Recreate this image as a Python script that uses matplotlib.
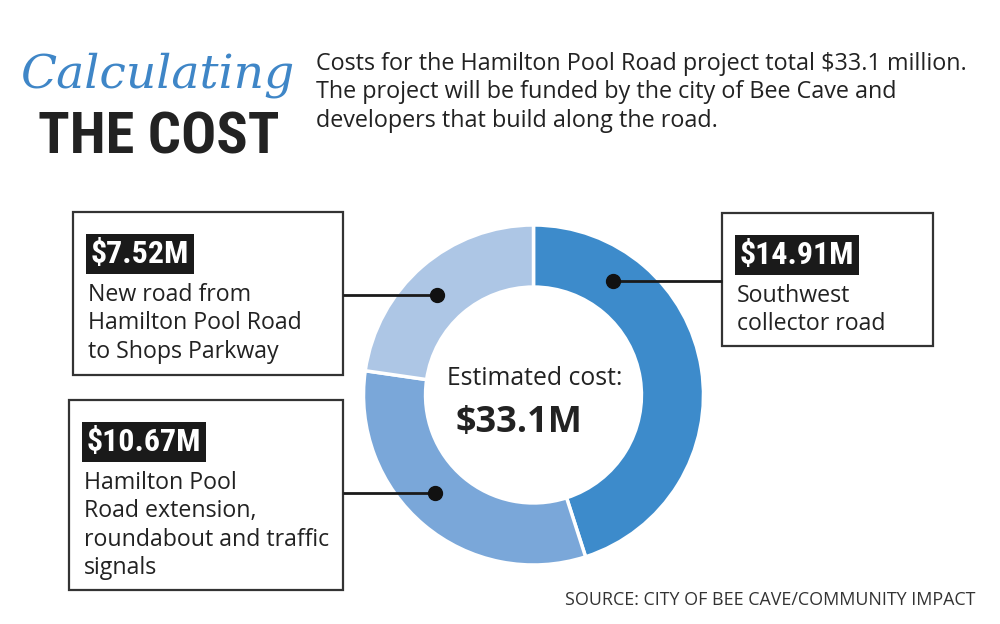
import numpy as np
import matplotlib
matplotlib.use("Agg")
import matplotlib.pyplot as plt
from matplotlib.patches import Rectangle

# ---- data ----
categories = ["Southwest collector road",
              "Hamilton Pool Road extension, roundabout and traffic signals",
              "New road from Hamilton Pool Road to Shops Parkway"]
values = [14.91, 10.67, 7.52]
value_labels = ["$14.91M", "$10.67M", "$7.52M"]
descriptions = [["Southwest", "collector road"],
                ["Hamilton Pool", "Road extension,", "roundabout and traffic", "signals"],
                ["New road from", "Hamilton Pool Road", "to Shops Parkway"]]
total_label = "$33.1M"
intro_lines = ["Costs for the Hamilton Pool Road project total $33.1 million.",
               "The project will be funded by the city of Bee Cave and",
               "developers that build along the road."]
colors = ["#3d8bcb", "#7aa7d9", "#adc6e5"]

W, H = 1000, 624
fig = plt.figure(figsize=(W / 100, H / 100), dpi=100)
fig.patch.set_facecolor("white")

# donut axes
cx, cy, R = 533.5, 395, 170
axp = fig.add_axes([(cx - R) / W, (H - cy - R) / H, 2 * R / W, 2 * R / H])
axp.pie(values, colors=colors, startangle=90, counterclock=False, radius=1,
        wedgeprops=dict(width=0.365, edgecolor="white", linewidth=2.5))
axp.set_xlim(-1, 1)
axp.set_ylim(-1, 1)
axp.set_aspect("equal")
axp.axis("off")

# overlay axes in pixel coords
ax = fig.add_axes([0, 0, 1, 1], zorder=5)
ax.set_xlim(0, W)
ax.set_ylim(H, 0)
ax.axis("off")
ax.patch.set_alpha(0)

body = "Open Sans"
narrow = ["Roboto Condensed", "Roboto", "DejaVu Sans"]
ink = "#222222"


def lines(x, y0, rows, step, **kw):
    for k, row in enumerate(rows):
        ax.text(x, y0 + k * step, row, va="baseline", ha="left", **kw)


# title
ax.text(20, 88, "Calculating", fontsize=34, color="#3f86c7", style="italic",
        family="DejaVu Serif", va="baseline", ha="left")
ax.text(38, 154, "THE COST", fontsize=42, color=ink, weight="bold",
        family=narrow, va="baseline", ha="left")

lines(316, 70, intro_lines, 28.5, fontsize=16.8, family=body, color=ink)

# center text
ax.text(535, 385, "Estimated cost:", fontsize=17.8, family=body, color=ink,
        ha="center", va="baseline")
ax.text(519, 432, total_label, fontsize=26, family=body, weight="bold",
        color=ink, ha="center", va="baseline")

# boxes: (x0, y0, x1, y1), leader y, side
boxes = [(722, 213, 933, 346, 281, "right"),
         (69, 400, 343, 590, 493, "left"),
         (73, 212, 343, 375, 295, "left")]

mid_r = 1 - 0.365 / 2
for i, (x0, y0, x1, y1, ly, side) in enumerate(boxes):
    ax.add_patch(Rectangle((x0, y0), x1 - x0, y1 - y0, facecolor="white",
                           edgecolor="#333333", linewidth=1.6))
    # value label in black box
    ax.text(x0 + 18, y0 + 51, value_labels[i], fontsize=23, family=narrow,
            weight="bold", color="white", va="baseline", ha="left",
            bbox=dict(boxstyle="square,pad=0.15", facecolor="#1a1a1a",
                      edgecolor="none"))
    lines(x0 + 15, y0 + 89, descriptions[i], 28.3, fontsize=16.7, family=body,
          color=ink)
    # leader: dot on ring at height ly
    dy = (cy - ly) / R
    dx = np.sqrt(max(mid_r ** 2 - dy ** 2, 0))
    dx = dx if side == "right" else -dx
    px, py = ax.transData.inverted().transform(axp.transData.transform((dx, dy)))
    edge = x0 if side == "right" else x1
    ax.plot([px, edge], [py, py], color="#1a1a1a", lw=2, solid_capstyle="butt")
    ax.plot(px, py, "o", color="#111111", markersize=10)

ax.text(975, 605, "SOURCE: CITY OF BEE CAVE/COMMUNITY IMPACT", fontsize=12.9,
        family=body, color="#333333", ha="right", va="baseline")

fig.savefig("out.png", dpi=100, facecolor="white")
